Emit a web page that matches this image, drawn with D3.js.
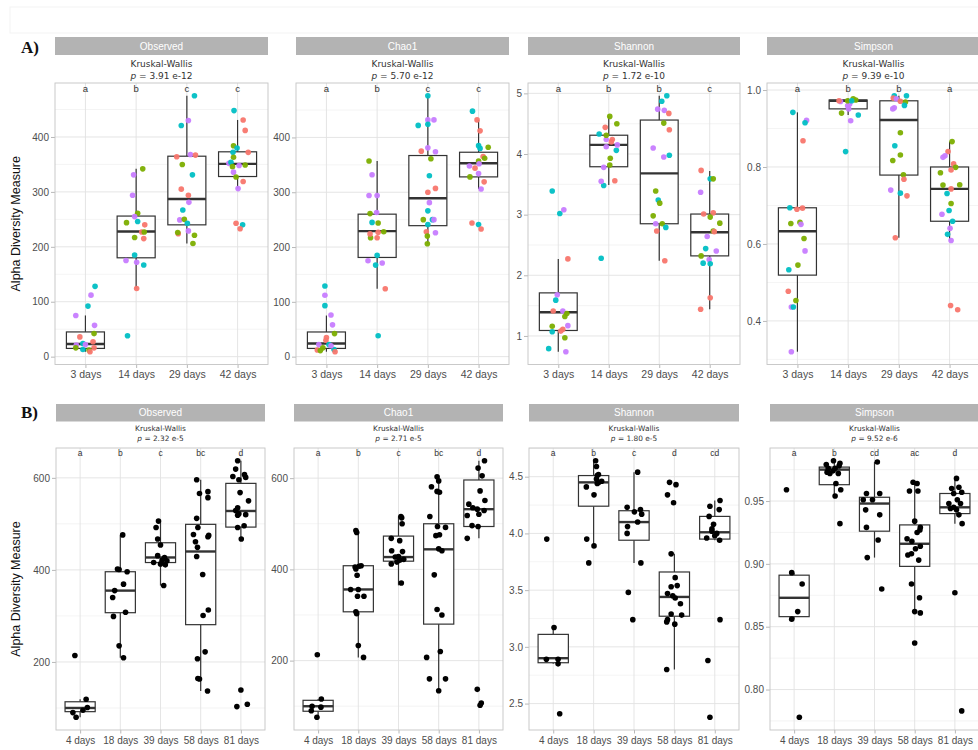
<!DOCTYPE html>
<html><head><meta charset="utf-8">
<script src="https://cdn.jsdelivr.net/npm/d3@7"></script>
<style>body{margin:0;background:#fff}svg{display:block}</style>
</head><body>
<script>
// ---------------- DATA ----------------
const metrics = ["Observed", "Chao1", "Shannon", "Simpson"];
const daysA = ["3 days", "14 days", "29 days", "42 days"];
const daysB = ["4 days", "18 days", "39 days", "58 days", "81 days"];
const pValuesA = ["3.91 e-12", "5.70 e-12", "1.72 e-10", "9.39 e-10"];
const pValuesB = ["2.32 e-5", "2.71 e-5", "1.80 e-5", "9.52 e-6"];
const lettersA = [["a","b","c","c"], ["a","b","c","c"], ["a","b","b","c"], ["a","b","b","a"]];
const lettersB = [["a","b","c","bc","d"], ["a","b","c","bc","d"], ["a","b","c","d","cd"], ["a","b","cd","ac","d"]];
const ticksA = [[0,100,200,300,400], [0,100,200,300,400], [1,2,3,4,5], [0.4,0.6,0.8,1.0]];
const ticksB = [[200,400,600], [200,400,600], [2.5,3.0,3.5,4.0,4.5], [0.80,0.85,0.90,0.95]];
const groupColors = {r:"#F8766D", g:"#7CAE00", t:"#00BFC4", p:"#C77CFF"};

// boxes: [lower whisker, q1, median, q3, upper whisker]
const boxObservedA = [[9,15,23,45,75],[124,180,228,256,342],[206,240,287,365,475],[306,328,351,373,431]];
const boxChao1A = [[9,15,24,45,75],[124,181,229,260,357],[206,239,289,367,476],[306,328,353,373,432]];
const boxShannonA = [[0.74,1.09,1.39,1.71,2.27],[3.49,3.79,4.15,4.31,4.62],[2.24,2.85,3.68,4.56,4.96],[1.44,2.32,2.71,3.01,3.72]];
const boxSimpsonA = [[0.32,0.519,0.633,0.694,0.942],[0.935,0.951,0.972,0.974,0.978],[0.616,0.779,0.922,0.972,0.985],[0.609,0.659,0.743,0.8,0.866]];
const boxObservedB = [[80,92,100,113.5,119],[209,307,355,396,476],[366,416,427,459,506],[137,281,440,499,596],[467,493,528,588,637]];
const boxChao1B = [[76,89,100,113,116],[207,307,356,408,485],[365,418,427,473,516],[134,280,444,500,603],[468,494,532,596,638]];
const boxShannonB = [[2.85,2.86,2.90,3.11,3.17],[3.89,4.24,4.45,4.51,4.64],[3.74,3.94,4.10,4.20,4.54],[2.80,3.27,3.44,3.66,3.82],[3.94,3.95,4.01,4.15,4.29]];
const boxSimpsonB = [[0.856,0.858,0.873,0.891,0.893],[0.954,0.963,0.975,0.977,0.982],[0.905,0.926,0.948,0.953,0.981],[0.861,0.898,0.916,0.931,0.965],[0.932,0.94,0.945,0.956,0.968]];

// points: [group index, value, jitter (fraction of category step), colour group]
const ptsObservedA = [
 [0,75,-0.19,"p"],[0,128,0.19,"t"],[0,112,0.11,"p"],[0,92,0.05,"t"],[0,57,0.18,"p"],[0,42,0.17,"g"],[0,36,-0.11,"r"],[0,21,-0.18,"p"],[0,24,-0.05,"t"],[0,27,0.15,"r"],[0,16,-0.19,"g"],[0,13,-0.05,"t"],[0,16,0.17,"r"],[0,12,0.07,"g"],[0,9,0.09,"r"],[0,22,0,"p"],
 [1,38,-0.17,"t"],[1,124,0.01,"r"],[1,167,0.15,"t"],[1,175,-0.2,"p"],[1,172,0.01,"p"],[1,185,-0.03,"t"],[1,215,0.15,"r"],[1,217,-0.03,"g"],[1,227,0.11,"r"],[1,227,0.16,"g"],[1,240,0.17,"r"],[1,244,-0.19,"g"],[1,246,0.03,"t"],[1,261,0.03,"g"],[1,255,-0.03,"p"],[1,294,-0.07,"p"],[1,331,-0.05,"p"],[1,342,0.13,"g"],
 [2,475,0.15,"t"],[2,430,0.03,"p"],[2,421,-0.11,"t"],[2,368,0.07,"p"],[2,364,-0.2,"r"],[2,367,0.17,"r"],[2,350,-0.09,"g"],[2,331,0.11,"t"],[2,305,-0.11,"r"],[2,294,0.03,"r"],[2,281,0.04,"p"],[2,267,-0.08,"t"],[2,249,-0.14,"p"],[2,250,-0.05,"g"],[2,243,0.01,"t"],[2,229,0.03,"p"],[2,224,-0.17,"r"],[2,226,-0.18,"g"],[2,221,0.15,"g"],[2,206,0.12,"g"],
 [3,448,-0.07,"t"],[3,431,0.11,"r"],[3,412,0.15,"r"],[3,384,-0.08,"g"],[3,380,-0.01,"t"],[3,372,-0.09,"t"],[3,372,0.21,"r"],[3,363,-0.08,"g"],[3,352,-0.17,"p"],[3,354,-0.13,"t"],[3,349,0.15,"g"],[3,348,0.03,"p"],[3,346,-0.1,"g"],[3,336,-0.08,"p"],[3,327,-0.03,"g"],[3,319,0.11,"r"],[3,306,0.01,"p"],[3,243,-0.03,"r"],[3,240,0.1,"t"],[3,233,0.05,"r"]
];
const ptsChao1A = [
 [0,129,-0.03,"t"],[0,112,-0.03,"p"],[0,93,-0.03,"t"],[0,76,0.09,"p"],[0,58,0.12,"p"],[0,42,0.16,"g"],[0,35,0,"r"],[0,30,-0.01,"r"],[0,22,-0.15,"p"],[0,22,0.05,"t"],[0,16,-0.07,"g"],[0,12,-0.18,"r"],[0,11,-0.12,"g"],[0,13,0.15,"t"],[0,9,0.17,"r"],[0,20,0.09,"p"],
 [1,38,0.02,"t"],[1,124,0.16,"r"],[1,175,-0.18,"p"],[1,167,-0.03,"t"],[1,171,0.1,"p"],[1,185,0,"t"],[1,217,-0.13,"g"],[1,217,0,"r"],[1,224,-0.14,"r"],[1,228,0.13,"g"],[1,227,0.02,"r"],[1,245,-0.1,"t"],[1,244,0.02,"g"],[1,261,-0.14,"g"],[1,263,-0.01,"p"],[1,294,-0.16,"p"],[1,294,0,"p"],[1,332,-0.1,"p"],[1,357,-0.16,"g"],
 [2,476,0,"t"],[2,432,0,"p"],[2,432,0.12,"p"],[2,422,-0.19,"t"],[2,424,0,"t"],[2,381,0,"p"],[2,375,-0.13,"r"],[2,374,0.15,"p"],[2,361,0.06,"g"],[2,330,0.03,"t"],[2,307,0.15,"r"],[2,300,0,"r"],[2,281,0.03,"p"],[2,266,0,"t"],[2,250,-0.09,"g"],[2,250,0.09,"t"],[2,250,0.12,"p"],[2,241,0,"t"],[2,228,-0.03,"r"],[2,226,0.15,"p"],[2,220,-0.01,"g"],[2,206,-0.01,"g"],
 [3,448,-0.12,"t"],[3,432,-0.03,"r"],[3,412,0.03,"r"],[3,385,0,"t"],[3,382,0.19,"g"],[3,380,0.03,"t"],[3,365,0.09,"r"],[3,362,0.12,"g"],[3,357,0,"g"],[3,352,0.01,"p"],[3,348,-0.18,"p"],[3,344,-0.07,"r"],[3,328,-0.17,"g"],[3,334,0,"p"],[3,319,0.11,"r"],[3,306,0.05,"p"],[3,244,-0.13,"r"],[3,241,0,"t"],[3,233,0.05,"r"]
];
const ptsShannonA = [
 [0,3.39,-0.12,"t"],[0,3.02,0.03,"t"],[0,3.08,0.11,"p"],[0,2.27,0.19,"r"],[0,1.68,-0.02,"p"],[0,1.59,-0.05,"t"],[0,1.41,-0.1,"r"],[0,1.41,0.09,"p"],[0,1.37,0.17,"g"],[0,1.32,0.13,"g"],[0,1.16,-0.12,"g"],[0,1.17,0.19,"p"],[0,1.11,0.09,"r"],[0,1.07,-0.12,"t"],[0,1.08,0.05,"r"],[0,0.97,0.13,"g"],[0,0.79,-0.19,"t"],[0,0.74,0.15,"p"],
 [1,2.28,-0.15,"t"],[1,3.56,0.12,"r"],[1,3.48,-0.1,"t"],[1,3.55,-0.15,"p"],[1,3.82,0.02,"g"],[1,3.78,-0.1,"p"],[1,3.93,0.03,"g"],[1,4.06,0.15,"t"],[1,4.12,-0.05,"p"],[1,4.15,0.17,"p"],[1,4.24,0.07,"r"],[1,4.2,0.05,"r"],[1,4.24,-0.05,"p"],[1,4.33,-0.19,"t"],[1,4.31,-0.05,"g"],[1,4.44,-0.07,"r"],[1,4.5,0.16,"g"],[1,4.62,0.02,"g"],
 [2,4.96,0.15,"t"],[2,4.87,0.05,"t"],[2,4.74,-0.03,"p"],[2,4.72,0.1,"p"],[2,4.67,0.19,"r"],[2,4.51,0.09,"g"],[2,4.4,0.2,"r"],[2,4.1,-0.12,"p"],[2,3.95,0.09,"p"],[2,3.98,0.2,"t"],[2,3.39,-0.07,"g"],[2,3.24,-0.02,"t"],[2,3.19,0.01,"g"],[2,2.98,-0.12,"g"],[2,2.85,-0.07,"p"],[2,2.85,0.06,"g"],[2,2.73,-0.05,"r"],[2,2.79,0.13,"t"],[2,2.24,0.11,"r"],
 [3,3.73,-0.17,"r"],[3,3.59,0.01,"t"],[3,3.59,0.07,"g"],[3,3.37,-0.18,"p"],[3,3.01,-0.12,"r"],[3,3.03,0.07,"r"],[3,2.96,0.01,"g"],[3,2.86,0.2,"g"],[3,2.73,0.07,"g"],[3,2.72,0.09,"r"],[3,2.64,-0.05,"p"],[3,2.44,-0.08,"t"],[3,2.4,0.13,"p"],[3,2.32,-0.17,"g"],[3,2.26,-0.01,"p"],[3,2.2,-0.13,"t"],[3,2.19,0.01,"t"],[3,1.63,0.01,"r"],[3,1.44,-0.18,"r"]
];
const ptsSimpsonA = [
 [0,0.942,-0.09,"t"],[0,0.921,0.18,"p"],[0,0.915,0.15,"t"],[0,0.868,0.11,"r"],[0,0.694,-0.15,"t"],[0,0.69,-0.01,"r"],[0,0.693,0.1,"r"],[0,0.653,-0.13,"g"],[0,0.656,0.05,"g"],[0,0.651,0.07,"p"],[0,0.614,0.13,"g"],[0,0.582,0.15,"p"],[0,0.545,0.01,"g"],[0,0.533,-0.17,"t"],[0,0.477,-0.18,"r"],[0,0.453,-0.03,"g"],[0,0.436,-0.12,"p"],[0,0.436,-0.08,"t"],[0,0.32,-0.12,"p"],
 [1,0.84,-0.05,"t"],[1,0.92,0.05,"p"],[1,0.935,0.2,"t"],[1,0.94,-0.13,"g"],[1,0.951,0.01,"p"],[1,0.959,-0.01,"p"],[1,0.964,0.03,"p"],[1,0.97,-0.15,"p"],[1,0.972,-0.18,"r"],[1,0.972,-0.01,"g"],[1,0.977,0.1,"g"],[1,0.974,0.15,"g"],[1,0.972,0.07,"t"],
 [2,0.985,-0.09,"t"],[2,0.985,0.15,"t"],[2,0.979,-0.11,"r"],[2,0.977,-0.05,"p"],[2,0.971,0.03,"r"],[2,0.969,0.13,"g"],[2,0.96,0.11,"t"],[2,0.951,-0.12,"p"],[2,0.954,-0.09,"p"],[2,0.889,0.03,"g"],[2,0.855,-0.08,"t"],[2,0.831,0.03,"g"],[2,0.817,-0.12,"g"],[2,0.78,0.09,"g"],[2,0.768,0.1,"r"],[2,0.74,-0.16,"p"],[2,0.732,0.03,"t"],[2,0.725,0.16,"r"],[2,0.616,-0.07,"r"],
 [3,0.866,0.05,"g"],[3,0.84,-0.03,"r"],[3,0.825,-0.13,"p"],[3,0.829,-0.09,"p"],[3,0.808,0.08,"r"],[3,0.799,0.12,"g"],[3,0.792,0.03,"r"],[3,0.785,-0.18,"g"],[3,0.743,0.03,"r"],[3,0.753,-0.13,"g"],[3,0.754,0.2,"g"],[3,0.731,-0.05,"t"],[3,0.705,0.03,"g"],[3,0.687,-0.01,"t"],[3,0.677,-0.15,"p"],[3,0.659,0.06,"t"],[3,0.641,0.01,"p"],[3,0.625,-0.04,"t"],[3,0.609,0.03,"p"],[3,0.44,0.02,"r"],[3,0.429,0.16,"r"]
];
const ptsObservedB = [
 [0,214,-0.13],[0,119,0.15],[0,101,0.18],[0,95,0.07],[0,90,-0.18],[0,80,-0.1],
 [1,476,0.06],[1,402,-0.07],[1,401,-0.03],[1,396,0.17],[1,369,0.08],[1,355,-0.14],[1,340,-0.19],[1,308,0.13],[1,299,-0.17],[1,235,-0.03],[1,209,0.08],
 [2,506,-0.05],[2,492,-0.11],[2,467,-0.07],[2,454,0],[2,431,-0.07],[2,427,0.1],[2,420,0.16],[2,421,0.04],[2,416,-0.17],[2,413,0],[2,411,0.12],[2,366,0.08],
 [3,596,-0.1],[3,566,-0.03],[3,570,0.18],[3,557,0.18],[3,512,-0.1],[3,492,-0.07],[3,477,-0.18],[3,475,0.2],[3,472,0.18],[3,461,-0.13],[3,449,-0.08],[3,429,-0.1],[3,390,0.05],[3,313,0.19],[3,301,0.06],[3,222,0.11],[3,207,-0.08],[3,164,-0.07],[3,163,-0.03],[3,137,0.17],
 [4,637,-0.08],[4,619,-0.13],[4,607,0.09],[4,603,-0.2],[4,601,0.12],[4,596,-0.05],[4,568,-0.02],[4,550,0.19],[4,535,-0.08],[4,529,-0.13],[4,522,-0.05],[4,520,0.12],[4,519,-0.08],[4,496,0.08],[4,492,-0.08],[4,467,0.01],[4,139,0],[4,103,-0.1],[4,108,0.16]
];
const ptsChao1B = [
 [0,213,-0.02],[0,116,0.08],[0,98,0.07],[0,90,-0.17],[0,76,-0.03],[0,100,-0.15],
 [1,485,-0.06],[1,481,-0.04],[1,405,-0.08],[1,407,0.02],[1,408,0.07],[1,401,-0.06],[1,387,-0.03],[1,356,-0.19],[1,356,0],[1,341,0.14],[1,341,-0.02],[1,307,-0.06],[1,303,-0.04],[1,233,0],[1,207,0.13],
 [2,516,0.06],[2,513,0.08],[2,500,0.09],[2,468,-0.18],[2,463,0.03],[2,441,-0.17],[2,439,0.1],[2,428,0],[2,427,-0.08],[2,422,0.13],[2,420,0.03],[2,412,-0.18],[2,416,-0.04],[2,370,0.07],
 [3,603,-0.04],[3,594,0],[3,581,-0.18],[3,571,-0.04],[3,569,0.02],[3,516,-0.22],[3,494,-0.03],[3,492,0.17],[3,476,0.02],[3,474,-0.07],[3,445,0],[3,441,0.08],[3,388,-0.11],[3,312,-0.04],[3,300,0.08],[3,207,-0.3],[3,220,0.04],[3,160,-0.23],[3,160,0.17],[3,134,0],
 [4,638,0.14],[4,622,-0.02],[4,605,0.08],[4,572,0.03],[4,551,0.15],[4,543,-0.25],[4,535,-0.15],[4,532,-0.04],[4,529,0.13],[4,521,0],[4,518,-0.29],[4,496,-0.17],[4,494,-0.02],[4,468,-0.29],[4,137,-0.04],[4,102,0.03],[4,107,0.06]
];
const ptsShannonB = [
 [0,3.95,-0.16],[0,3.17,0.02],[0,2.89,-0.17],[0,2.89,0.12],[0,2.85,0.12],[0,2.41,0.16],
 [1,4.64,0.05],[1,4.59,0.07],[1,4.52,0.12],[1,4.51,0.09],[1,4.48,0.07],[1,4.45,0.13],[1,4.44,0.09],[1,4.46,0.2],[1,4.41,-0.18],[1,4.34,0.01],[1,3.95,-0.17],[1,3.89,0.01],[1,3.74,-0.12],
 [2,4.54,0.09],[2,4.23,-0.17],[2,4.21,0.16],[2,4.19,0.01],[2,4.17,0.19],[2,4.1,0.09],[2,4.06,-0.16],[2,4.0,-0.17],[2,3.74,0.17],[2,3.48,-0.14],[2,3.24,-0.03],
 [3,4.45,-0.12],[3,4.43,0.04],[3,4.34,-0.17],[3,4.27,-0.02],[3,3.82,-0.08],[3,3.61,0.02],[3,3.54,0.07],[3,3.53,-0.08],[3,3.47,-0.17],[3,3.45,-0.04],[3,3.43,0.02],[3,3.38,0.15],[3,3.29,-0.08],[3,3.28,0.18],[3,3.24,-0.17],[3,3.22,-0.19],[3,3.20,0.01],[3,2.80,-0.19],
 [4,4.29,0.13],[4,4.24,-0.12],[4,4.21,0.11],[4,4.15,-0.14],[4,4.08,-0.03],[4,4.04,-0.07],[4,3.96,-0.2],[4,3.98,0],[4,4.0,0.05],[4,3.94,0.12],[4,4.02,-0.07],[4,3.24,0.13],[4,2.88,-0.17],[4,2.38,-0.12]
];
const ptsSimpsonB = [
 [0,0.959,-0.19],[0,0.893,-0.06],[0,0.884,0.2],[0,0.862,0.09],[0,0.856,-0.06],[0,0.778,0.13],
 [1,0.982,-0.02],[1,0.979,-0.2],[1,0.978,0.12],[1,0.98,0.14],[1,0.976,-0.15],[1,0.976,0.02],[1,0.973,-0.18],[1,0.972,-0.11],[1,0.972,0.1],[1,0.974,-0.03],[1,0.964,0.04],[1,0.959,0.16],[1,0.954,0.02],[1,0.932,0.14],
 [2,0.981,0.07],[2,0.956,-0.2],[2,0.956,0.13],[2,0.951,-0.28],[2,0.951,-0.05],[2,0.943,-0.22],[2,0.939,0.13],[2,0.929,-0.2],[2,0.919,0.09],[2,0.905,-0.18],[2,0.880,0.18],
 [3,0.965,-0.04],[3,0.964,0.06],[3,0.958,-0.13],[3,0.958,0.08],[3,0.934,0],[3,0.929,0.14],[3,0.925,0.06],[3,0.927,0.13],[3,0.92,-0.19],[3,0.918,-0.07],[3,0.914,0.14],[3,0.912,0.02],[3,0.907,-0.17],[3,0.908,-0.08],[3,0.903,0.1],[3,0.884,-0.08],[3,0.873,0.12],[3,0.862,0],[3,0.861,0.14],[3,0.837,0],
 [4,0.968,0.04],[4,0.96,-0.08],[4,0.961,0.1],[4,0.957,0.17],[4,0.956,-0.03],[4,0.948,-0.15],[4,0.948,0.14],[4,0.951,0.06],[4,0.945,-0.03],[4,0.944,-0.11],[4,0.943,0.04],[4,0.939,0.1],[4,0.932,0.18],[4,0.877,0],[4,0.783,0.17]
];

// ---------------- LAYOUT ----------------
const W = 978, H = 750;
const svg = d3.select("body").append("svg").attr("width", W).attr("height", H)
  .style("font-family", "'Liberation Sans', Arial, sans-serif");
svg.append("rect").attr("width", W).attr("height", H).attr("fill", "#fff");
svg.append("rect").attr("x", 10).attr("y", 7).attr("width", W).attr("height", 26)
  .attr("fill", "none").attr("stroke", "#f3f3f3");

const rowA = {top: 83, bottom: 364.5, stripTop: 37, stripH: 18, kwY: 66.5, pY: 79, letY: 91.5, xlabY: 379,
  kwSize: 9, letSize: 9.5, xlabSize: 10.5, cats: daysA, pv: pValuesA, lets: lettersA, ticks: ticksA,
  frames: [[55, 268], [296, 509], [528, 740], [767, 980]],
  boxes: [boxObservedA, boxChao1A, boxShannonA, boxSimpsonA],
  pts: [ptsObservedA, ptsChao1A, ptsShannonA, ptsSimpsonA],
  fmts: [d3.format("d"), d3.format("d"), d3.format("d"), d3.format(".1f")], label: "A)", labelY: 53};
const rowB = {top: 448, bottom: 730, stripTop: 404, stripH: 17.5, kwY: 431, pY: 441, letY: 456, xlabY: 746,
  kwSize: 7.4, letSize: 8.5, xlabSize: 10, cats: daysB, pv: pValuesB, lets: lettersB, ticks: ticksB,
  frames: [[56, 265], [294, 503], [529, 739], [770, 979]],
  boxes: [boxObservedB, boxChao1B, boxShannonB, boxSimpsonB],
  pts: [ptsObservedB, ptsChao1B, ptsShannonB, ptsSimpsonB],
  fmts: [d3.format("d"), d3.format("d"), d3.format(".1f"), d3.format(".2f")], label: "B)", labelY: 418};

function drawRow(row) {
  svg.append("text").attr("x", 21).attr("y", row.labelY).text(row.label)
    .style("font-family", "'Liberation Serif', 'Times New Roman', serif")
    .style("font-size", "17px").style("font-weight", "bold").attr("fill", "#111");
  metrics.forEach((m, i) => {
    const [x0, x1] = row.frames[i];
    const pts = row.pts[i], boxes = row.boxes[i];
    const allV = pts.map(d => d[1]).concat(boxes.flat());
    const mn = d3.min(allV), mx = d3.max(allV), pad = (mx - mn) * 0.05;
    const y = d3.scaleLinear().domain([mn - pad, mx + pad]).range([row.bottom, row.top]);
    const x = d3.scalePoint().domain(row.cats).range([x0, x1]).padding(0.6);
    const step = x.step();
    const g = svg.append("g");
    const majors = row.ticks[i];
    const dt = majors[1] - majors[0];
    const minors = [];
    for (let k = -1; k < majors.length; k++) {
      const v = (k < 0 ? majors[0] - dt / 2 : majors[k] + dt / 2);
      if (v > y.domain()[0] && v < y.domain()[1]) minors.push(v);
    }
    // grid
    g.selectAll(".mn").data(minors).join("line")
      .attr("x1", x0).attr("x2", x1).attr("y1", d => y(d)).attr("y2", d => y(d))
      .attr("stroke", "#efefef").attr("stroke-width", 0.7);
    g.selectAll(".mj").data(majors).join("line")
      .attr("x1", x0).attr("x2", x1).attr("y1", d => y(d)).attr("y2", d => y(d))
      .attr("stroke", "#e2e2e2").attr("stroke-width", 0.9);
    g.selectAll(".vx").data(row.cats).join("line")
      .attr("x1", d => x(d)).attr("x2", d => x(d)).attr("y1", row.top).attr("y2", row.bottom)
      .attr("stroke", "#e2e2e2").attr("stroke-width", 0.9);
    // y axis
    const ya = g.append("g").attr("transform", `translate(${x0},0)`)
      .call(d3.axisLeft(y).tickValues(majors).tickFormat(row.fmts[i]).tickSize(4).tickPadding(2));
    ya.select(".domain").remove();
    ya.selectAll("line").attr("stroke", "#b8b8b8");
    ya.selectAll("text").attr("fill", "#4d4d4d").style("font-size", "10px")
      .style("font-family", "'Liberation Sans', Arial, sans-serif");
    // x axis
    const xa = g.append("g").attr("transform", `translate(0,${row.bottom})`)
      .call(d3.axisBottom(x).tickSize(3.5).tickPadding(3));
    xa.select(".domain").remove();
    xa.selectAll("line").attr("stroke", "#b8b8b8");
    xa.selectAll("text").attr("fill", "#4d4d4d").style("font-size", row.xlabSize + "px")
      .style("font-family", "'Liberation Sans', Arial, sans-serif");
    // boxes
    const bw = step * 0.75;
    const bg = g.selectAll(".box").data(boxes).join("g");
    bg.append("line").attr("x1", (d, j) => x(row.cats[j])).attr("x2", (d, j) => x(row.cats[j]))
      .attr("y1", d => y(d[0])).attr("y2", d => y(d[1])).attr("stroke", "#333").attr("stroke-width", 1.2);
    bg.append("line").attr("x1", (d, j) => x(row.cats[j])).attr("x2", (d, j) => x(row.cats[j]))
      .attr("y1", d => y(d[3])).attr("y2", d => y(d[4])).attr("stroke", "#333").attr("stroke-width", 1.2);
    bg.append("rect").attr("x", (d, j) => x(row.cats[j]) - bw / 2).attr("width", bw)
      .attr("y", d => y(d[3])).attr("height", d => y(d[1]) - y(d[3]))
      .attr("fill", "#fff").attr("stroke", "#333").attr("stroke-width", 1.2);
    bg.append("line").attr("x1", (d, j) => x(row.cats[j]) - bw / 2).attr("x2", (d, j) => x(row.cats[j]) + bw / 2)
      .attr("y1", d => y(d[2])).attr("y2", d => y(d[2])).attr("stroke", "#333").attr("stroke-width", 2.4);
    // points
    g.selectAll(".pt").data(pts).join("circle")
      .attr("cx", d => x(row.cats[d[0]]) + d[2] * step)
      .attr("cy", d => y(d[1])).attr("r", 2.8)
      .attr("fill", d => d[3] ? groupColors[d[3]] : "#000")
      .attr("fill-opacity", d => d[3] ? 0.95 : 1);
    // panel border
    g.append("rect").attr("x", x0).attr("y", row.top).attr("width", x1 - x0).attr("height", row.bottom - row.top)
      .attr("fill", "none").attr("stroke", "#c4c4c4").attr("stroke-width", 0.9);
    // letters
    g.selectAll(".let").data(row.lets[i]).join("text")
      .attr("x", (d, j) => x(row.cats[j])).attr("y", row.letY).attr("text-anchor", "middle")
      .style("font-size", row.letSize + "px").attr("fill", "#333").text(d => d);
    // strip
    g.append("rect").attr("x", x0).attr("y", row.stripTop).attr("width", x1 - x0).attr("height", row.stripH)
      .attr("fill", "#b3b3b3");
    g.append("text").attr("x", (x0 + x1) / 2).attr("y", row.stripTop + row.stripH / 2 + 3.5)
      .attr("text-anchor", "middle").attr("fill", "#fff").style("font-size", "10px").text(m);
    // KW annotation
    const cx = (x0 + x1) / 2;
    g.append("text").attr("x", cx).attr("y", row.kwY).attr("text-anchor", "middle")
      .style("font-family", "'DejaVu Sans', sans-serif").style("font-size", row.kwSize + "px")
      .attr("fill", "#333").text("Kruskal-Wallis");
    const pt = g.append("text").attr("x", cx).attr("y", row.pY).attr("text-anchor", "middle")
      .style("font-family", "'DejaVu Sans', sans-serif").style("font-size", row.kwSize + "px").attr("fill", "#333");
    pt.append("tspan").style("font-style", "italic").text("p");
    pt.append("tspan").text(" = " + row.pv[i]);
    if (i === 0) {
      svg.append("text").attr("transform", `translate(20,${(row.top + row.bottom) / 2}) rotate(-90)`)
        .attr("text-anchor", "middle").style("font-size", "12.5px").attr("fill", "#111")
        .text("Alpha Diversity Measure");
    }
  });
}
drawRow(rowA);
drawRow(rowB);
</script>
</body></html>
